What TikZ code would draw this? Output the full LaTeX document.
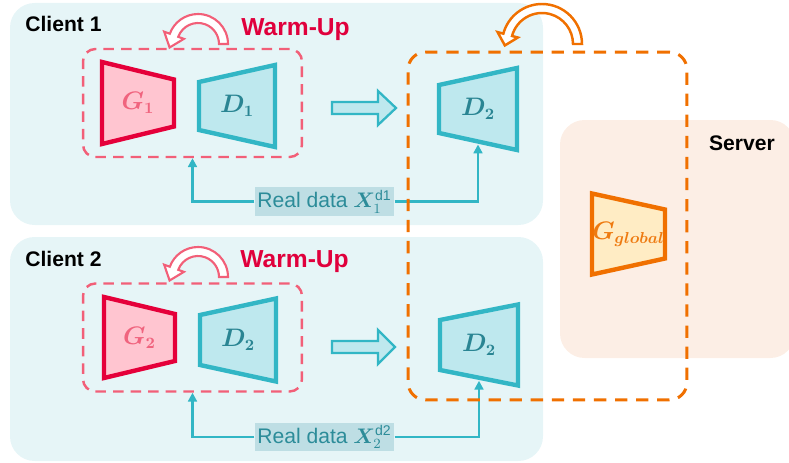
\documentclass[tikz,border=0pt]{standalone}
\usepackage{amsmath,bm}
\usepackage{fontspec}
\setmainfont{Liberation Sans}
\usetikzlibrary{calc,arrows.meta}
\definecolor{panelcyan}{HTML}{E6F5F7}
\definecolor{panelpeach}{HTML}{FCEEE5}
\definecolor{genred}{HTML}{E5003A}
\definecolor{genfill}{HTML}{FFC5D0}
\definecolor{genlabel}{HTML}{F0647E}
\definecolor{warmpink}{HTML}{F25F78}
\definecolor{warmtext}{HTML}{E0003C}
\definecolor{discteal}{HTML}{32B6C5}
\definecolor{discfill}{HTML}{BEE8EE}
\definecolor{disclabel}{HTML}{2A8593}
\definecolor{databg}{HTML}{BEDEE4}
\definecolor{datatext}{HTML}{2C8C99}
\definecolor{globorange}{HTML}{F07000}
\definecolor{globfill}{HTML}{FFECC4}
\definecolor{globlabel}{HTML}{EE7A10}
% trapezoid block: [style](centre)(half width:left half height:right half height){name}{label}
\def\netblock[#1](#2,#3)(#4:#5:#6)#7#8{%
	\draw[#1] (#2-#4,#3-#5) -- (#2+#4,#3-#6) -- (#2+#4,#3+#6) -- (#2-#4,#3+#5) -- cycle;
	\node[#1label] (#7) at (#2,#3) {#8};
	\coordinate (#7-s) at (#2,#3+#5/2+#6/2+3);}
% hollow curved arrow: [style](centre)(outer r:inner r:end angle:head length)
\def\loopback[#1](#2,#3)(#4:#5:#6:#7){%
	\draw[#1] (#2+#4,#3) arc[start angle=0, end angle=#6, radius=#4]
		-- ($(#2,#3)+(#6:#4+6)$) -- ($(#2,#3)+(#6:#4/2+#5/2)+(#6-90:#7)$)
		-- ($(#2,#3)+(#6:#5-6)$) -- ($(#2,#3)+(#6:#5)$)
		arc[start angle=#6, end angle=0, radius=#5] -- cycle;}

\begin{document}
\begin{tikzpicture}[x=0.02cm, y=-0.02cm,
	panel/.style={rounded corners=14pt},
	gnet/.style={draw=genred, fill=genfill, line width=2.5pt},
	gnetlabel/.style={text=genlabel, font=\fontsize{13.5}{15}\selectfont},
	dnet/.style={draw=discteal, fill=discfill, line width=2.5pt},
	dnetlabel/.style={text=disclabel, font=\fontsize{13.5}{15}\selectfont},
	onet/.style={draw=globorange, fill=globfill, line width=2.5pt},
	onetlabel/.style={text=globlabel, font=\fontsize{13.5}{15}\selectfont},
	warmbox/.style={draw=warmpink, dash pattern=on 6pt off 4pt, line width=1.4pt, rounded corners=7pt, minimum width=4.38cm, minimum height=2.16cm},
	roundbox/.style={draw=globorange, dash pattern=on 7pt off 5pt, line width=1.7pt, rounded corners=10pt, minimum width=5.58cm, minimum height=6.96cm},
	feed/.style={draw=discteal, line width=1.4pt, -{Triangle[length=5pt,width=5pt]}},
	datalabel/.style={fill=databg, text=datatext, font=\fontsize{12}{14}\selectfont, inner xsep=1.5pt, inner ysep=0pt, minimum height=16.5pt},
	title/.style={font=\bfseries\fontsize{12}{14}\selectfont, inner sep=0pt},
	warmtitle/.style={font=\bfseries\fontsize{14}{16}\selectfont, text=warmtext, inner sep=0pt, anchor=west},
	sendarrow/.style={draw=discteal, fill=discfill, line width=1.3pt},
	loopwarm/.style={draw=warmpink, fill=white, line width=1.2pt},
	looporange/.style={draw=globorange, fill=white, line width=1.4pt}]
	\useasboundingbox (0,0) rectangle (789,463);
	
	% panels
	\fill[panelcyan, panel] (10,3) rectangle (543,225);
	\fill[panelcyan, panel] (10,237) rectangle (543,461);
	\fill[panelpeach, panel] (560,120) rectangle (795,358);
	
	\node[title, anchor=west] (client1) at (25,24) {Client 1};
	\node[title, anchor=west] (client2) at (25,259) {Client 2};
	\node[title] (server) at (742,143) {Server};
	
	% client 1
	\node[warmbox] (warm1) at (192.5,103) {};
	\netblock[gnet](138,103)(36:41:23.5){g1}{$\bm{G_1}$}
	\netblock[dnet](237,106)(38:24:41){d1}{$\bm{D_1}$}
	\loopback[loopwarm](198,44)(30:21:-160:13)
	\node[warmtitle] (warmup1) at (241,30) {Warm-Up};
	\draw[sendarrow] (332,102) -- (378,102) -- (378,91) -- (396,108) -- (378,125) -- (378,114) -- (332,114) -- cycle;
	
	% client 2
	\node[warmbox] (warm2) at (192.5,337.5) {};
	\netblock[gnet](139.5,337.5)(35.5:40.5:23.5){g2}{$\bm{G_2}$}
	\netblock[dnet](238,340)(38:25:41.5){d2}{$\bm{D_2}$}
	\loopback[loopwarm](198,277)(30:21:-160:13)
	\node[warmtitle] (warmup2) at (240,262) {Warm-Up};
	\draw[sendarrow] (332,341) -- (378,341) -- (378,330) -- (395,347) -- (378,364) -- (378,353) -- (332,353) -- cycle;
	
	% server side
	\netblock[dnet](478,109)(39:24:41){d2a}{$\bm{D_2}$}
	\netblock[dnet](479,345)(39:25:40.5){d2b}{$\bm{D_2}$}
	\netblock[onet](628.5,234)(36.5:40.5:24.5){gglobal}{$\bm{G_{global}}$}
	
	% real data feeds
	\node[datalabel] (real1) at (324.5,201.5) {Real data $\bm{X}_1^{\mathrm{d1}}$};
	\draw[feed] (real1.west) -| (warm1.south);
	\draw[feed] (real1.east) -| (d2a-s);
	\node[datalabel] (real2) at (324.5,437) {Real data $\bm{X}_2^{\mathrm{d2}}$};
	\draw[feed] (real2.west) -| (warm2.south);
	\draw[feed] (real2.east) -| (d2b-s);
	
	\node[roundbox] (shared) at (547.5,226) {};
	\loopback[looporange](542,44)(40:31:-165:11)
\end{tikzpicture}
\end{document}
